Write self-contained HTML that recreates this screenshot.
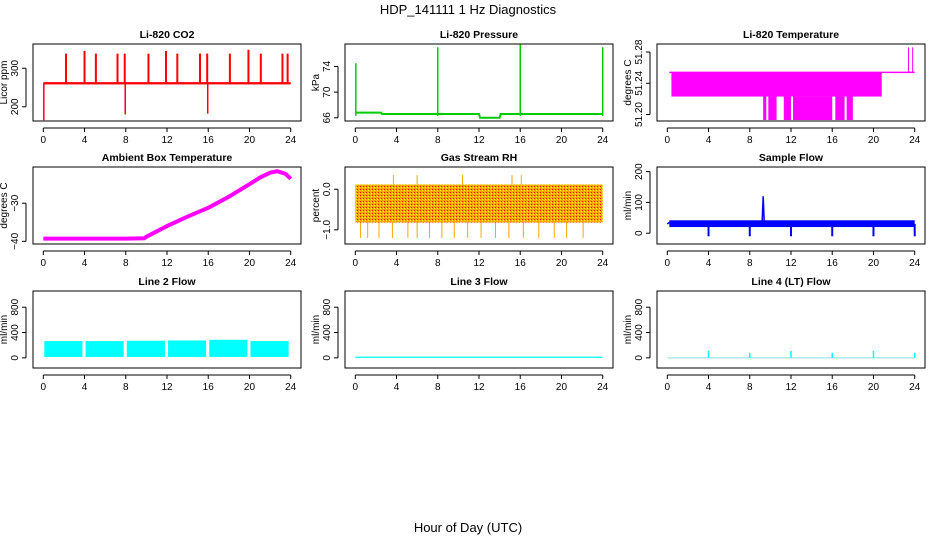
<!DOCTYPE html>
<html><head><meta charset="utf-8"><style>
body{margin:0;background:#fff;}
svg{display:block;font-family:"Liberation Sans",sans-serif;}
</style></head><body>
<svg id="c" width="936" height="540" xmlns="http://www.w3.org/2000/svg">
<defs>
<pattern id="rhpat" width="3" height="3" patternUnits="userSpaceOnUse"><rect width="3" height="3" fill="#f5a800"/><rect width="1" height="1" fill="#ff0000"/><rect x="2" y="1" width="1" height="1" fill="#ffff00"/></pattern>
</defs>
<text x="468" y="14" text-anchor="middle" font-size="13">HDP_141111 1 Hz Diagnostics</text>
<text x="468" y="532" text-anchor="middle" font-size="13">Hour of Day (UTC)</text>
</svg>
<script>
const xTicks=[0,4,8,12,16,20,24];
const co2Base=261, co2Spikes=[2.2,4,5.1,7.2,7.9,10.2,11.9,13,15.2,15.9,18.1,19.9,21.1,23.2,23.7];
const co2SpikeVals=[338,345,338,338,338,338,345,338,338,338,338,348,338,338,338];
const co2Dips=[0.05,7.95,15.95], co2DipVals=[165,180,182];
const presHours=[0,2.5,2.6,12,12.1,14,14.1,24], presVals=[66.8,66.8,66.6,66.6,66.0,66.0,66.6,66.6];
const presSpikes=[0.05,8,16,24], presSpikeVals=[74.5,77,77.5,77];
const tempBandStart=0.4, tempBandEnd=20.8, tempHi=51.254, tempLo=51.223, tempMin=51.193;
const tempLowRanges=[[9.3,9.6],[9.8,10.6],[11.3,12],[12.2,16],[16.3,17.2],[17.4,18]];
const tempTop=[23.4,23.8], tempTopVal=51.286;
const ambHours=[0,4,8,9.8,10,12,14,16,18,20,21,22,22.7,23.5,24];
const ambVals=[-39.3,-39.3,-39.3,-39.2,-38.8,-36,-33.5,-31.2,-28.3,-25,-23.3,-22,-21.6,-22.3,-23.6];
const rhTop=0.12, rhBot=-0.82;
const sfHours=[0,0.2,4,8,9.2,9.3,9.4,12,16,20,24], sfVals=[30,35,30,32,35,120,38,36,38,28,28];
const l2Segments=[[0.1,3.8],[4.1,7.8],[8.1,11.8],[12.1,15.8],[16.1,19.8],[20.1,23.8]], l2Top=[265,265,270,275,285,265], l2Bot=15;
const l4Spikes=[4,8,12,16,20,24], l4Vals=[110,80,110,80,110,80];

const svg=document.getElementById('c');const NS='http://www.w3.org/2000/svg';
function el(t,a,p){const e=document.createElementNS(NS,t);for(const k in a)e.setAttribute(k,a[k]);(p||svg).appendChild(e);return e;}
const colX=[33,345,657], rowY=[44,167,291], W=268, H=77;
function panel(ci,ri,title,ylab,ymin,ymax,yticks,ylabels,name){
  const L=colX[ci],T=rowY[ri];
  const g=el('g',{});
  
  
  const xs=h=>L+10.3+h*(W-20.6)/24;
  const ys=v=>T+H-(v-ymin)/(ymax-ymin)*H;
  const t=el('text',{x:L+W/2,y:T-6,'text-anchor':'middle','font-size':10.5,'font-weight':'bold'},g);t.textContent=title;
  
  const ax=el('g',{stroke:'#000','stroke-width':1},g);
  
  el('line',{x1:xs(0),x2:xs(24),y1:T+H+7,y2:T+H+7},ax);
  xTicks.forEach(h=>{el('line',{x1:xs(h),x2:xs(h),y1:T+H+7,y2:T+H+11},ax);
    const tt=el('text',{x:xs(h),y:T+H+22,'text-anchor':'middle','font-size':10,stroke:'none'},g);tt.textContent=h;});
  const ay=el('g',{stroke:'#000'},g);
  
  el('line',{x1:L-7,x2:L-7,y1:ys(yticks[0]),y2:ys(yticks[yticks.length-1])},ay);
  yticks.forEach((v,i)=>{el('line',{x1:L-11,x2:L-7,y1:ys(v),y2:ys(v)},ay);
    const tt=el('text',{x:L-15,y:ys(v),'text-anchor':'middle','font-size':10,transform:`rotate(-90 ${L-15} ${ys(v)})`},g);tt.textContent=ylabels[i];});
  const yl=el('text',{x:L-26,y:T+H/2,'text-anchor':'middle','font-size':10,transform:`rotate(-90 ${L-26} ${T+H/2})`},g);yl.textContent=ylab;
  
  const plot=el('g',{},g);
  
  el('rect',{x:L,y:T,width:W,height:H,fill:'none',stroke:'#000'},g);
  return {xs,ys,plot};
}
function line(p,hs,vs,col,w){el('polyline',{points:hs.map((h,i)=>p.xs(h)+','+p.ys(vs[i])).join(' '),fill:'none',stroke:col,'stroke-width':w},p.plot);}
function vline(p,h,v1,v2,col,w){el('line',{x1:p.xs(h),x2:p.xs(h),y1:p.ys(v1),y2:p.ys(v2),stroke:col,'stroke-width':w||1},p.plot);}
function band(p,h1,h2,v1,v2,fill){el('rect',{x:p.xs(h1),y:p.ys(v2),width:p.xs(h2)-p.xs(h1),height:p.ys(v1)-p.ys(v2),fill:fill},p.plot);}

let p=panel(0,0,'Li-820 CO2','Licor ppm',163,363,[200,300],['200','300'],'co2');
band(p,0,24,co2Base-3,co2Base+3,'#ff0000');
co2Spikes.forEach((h,i)=>vline(p,h,co2Base,co2SpikeVals[i],'#ff0000',2));
co2Dips.forEach((h,i)=>vline(p,h,co2Base,co2DipVals[i],'#ff0000',1.5));

p=panel(1,0,'Li-820 Pressure','kPa',65.5,77.5,[66,70,74],['66','70','74'],'pressure');
line(p,presHours,presVals,'#00cc00',2);
presSpikes.forEach((h,i)=>vline(p,h,66.3,presSpikeVals[i],'#00cc00',1.5));

p=panel(2,0,'Li-820 Temperature','degrees C',51.1917,51.2903,[51.20,51.24,51.28],['51.20','51.24','51.28'],'li820-temp');
band(p,tempBandStart,tempBandEnd,tempLo,tempHi,'#ff00ff');
line(p,[0.2,24],[tempHi,tempHi],'#ff00ff',1.5);
tempLowRanges.forEach(r=>band(p,r[0],r[1],tempMin,tempLo,'#ff00ff'));
tempTop.forEach(h=>vline(p,h,tempHi,tempTopVal,'#ff00ff',1));

p=panel(0,1,'Ambient Box Temperature','degrees C',-40.7,-20.5,[-40,-30],['\u221240','\u221230'],'ambient-temp');
line(p,ambHours,ambVals,'#ff00ff',4);

p=panel(1,1,'Gas Stream RH','percent',-1.35,0.55,[0,-1],['0.0','\u22121.0'],'gas-rh');
band(p,0,24,rhBot,rhTop,'url(#rhpat)');
[0.5,1.2,2.3,3.6,5.1,6,7.2,8.4,9.6,10.9,12.2,13.6,14.9,16.3,17.8,19.3,20.5,22.1].forEach(h=>vline(p,h,rhBot,-1.2,'#f5a800',1));
[3.7,6,10.4,15.2,16.1].forEach(h=>vline(p,h,rhTop,0.35,'#f5a800',1));

p=panel(2,1,'Sample Flow','ml/min',-35,215,[0,100,200],['0','100','200'],'sample-flow');
band(p,0.2,24,20,42,'#0000ff');
line(p,sfHours,sfVals,'#0000ff',1.5);
[4,8,12,16,20,24].forEach(h=>vline(p,h,30,-10,'#0000ff',2));

p=panel(0,2,'Line 2 Flow','ml/min',-160,1056,[0,400,800],['0','400','800'],'line2-flow');
l2Segments.forEach((s,i)=>band(p,s[0],s[1],l2Bot,l2Top[i],'#00ffff'));

p=panel(1,2,'Line 3 Flow','ml/min',-160,1056,[0,400,800],['0','400','800'],'line3-flow');
band(p,0,24,0,20,'#00ffff');

p=panel(2,2,'Line 4 (LT) Flow','ml/min',-160,1056,[0,400,800],['0','400','800'],'line4-flow');
line(p,[0,24],[0,0],'#88dddd',1);
l4Spikes.forEach((h,i)=>vline(p,h,0,l4Vals[i],'#00ffff',1.5));
</script>
</body></html>
